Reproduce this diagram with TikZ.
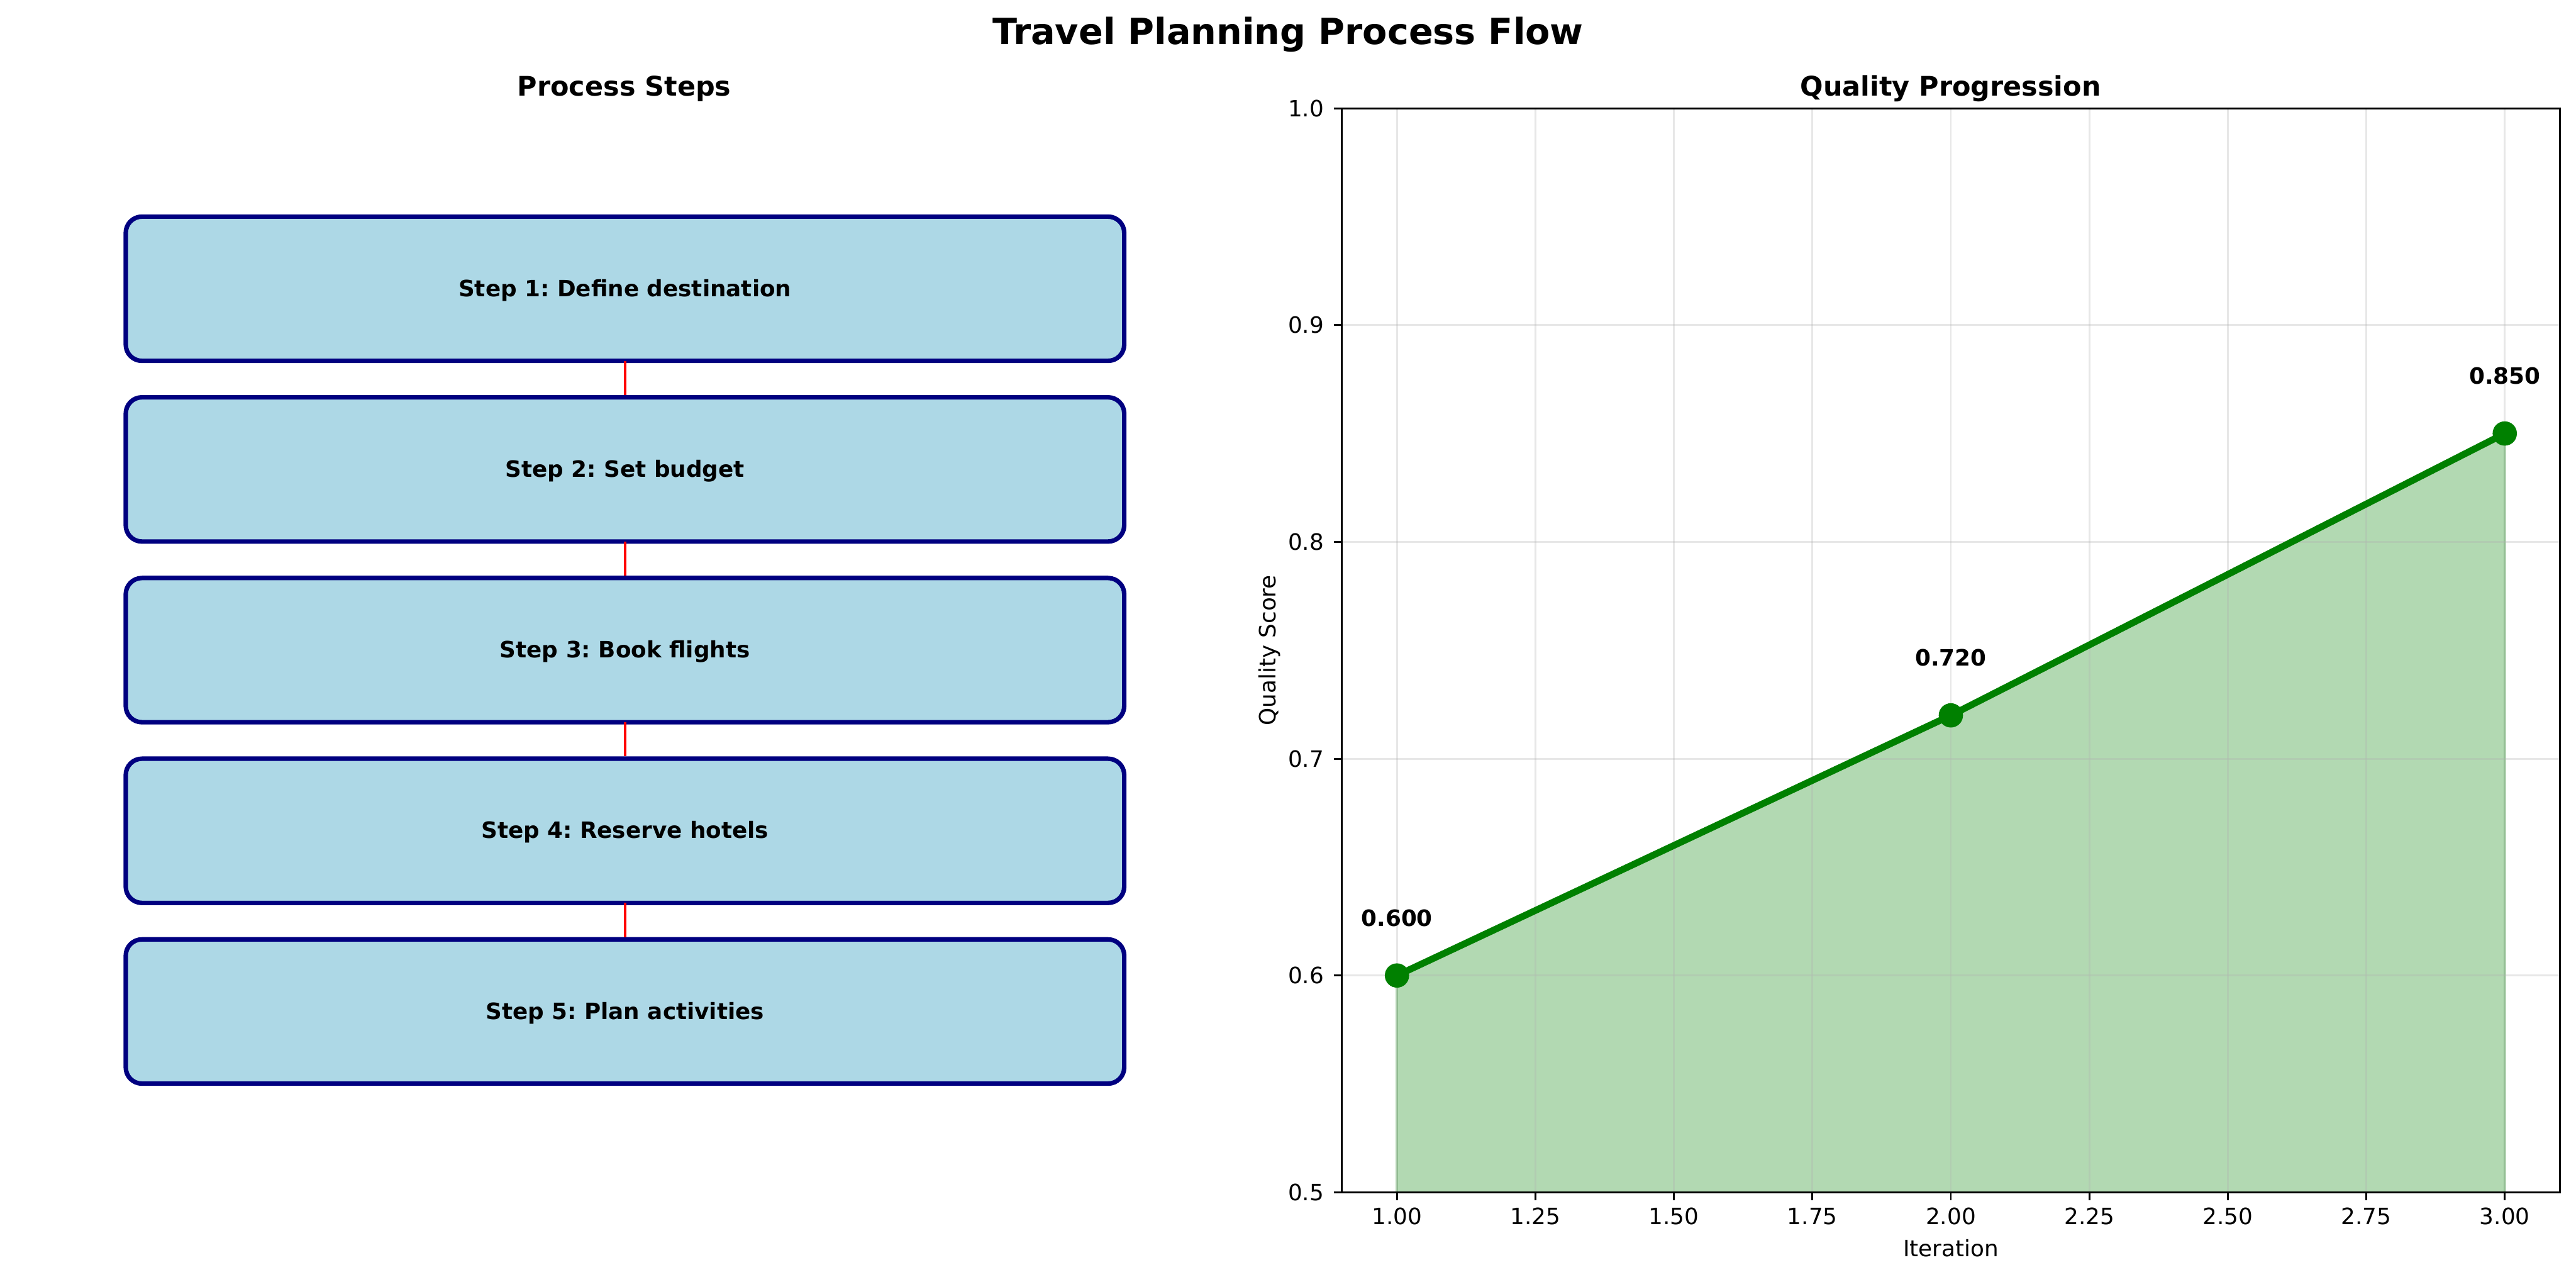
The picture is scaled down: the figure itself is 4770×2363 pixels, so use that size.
\documentclass[tikz,border=0pt]{standalone}
\usepackage{fontspec}
\setmainfont{DejaVu Sans}
\frenchspacing
\definecolor{boxfill}{RGB}{173,216,230}
\definecolor{navyblue}{RGB}{0,0,128}
\definecolor{mplgreen}{RGB}{0,128,0}
\definecolor{gridgray}{RGB}{176,176,176}
\begin{document}
\frenchspacing
\begin{tikzpicture}[x=0.24bp,y=-0.24bp,
  stepbox/.style={draw=navyblue, fill=boxfill, line width=2bp, rounded corners=7.2bp,
    minimum width=443.71bp, minimum height=64.08bp, inner sep=0pt, outer sep=0pt,
    text height=9bp, text depth=2.14bp,
    font=\fontsize{10bp}{12bp}\selectfont\bfseries},
  conn/.style={draw=red, line width=1bp, shorten >=1bp},
  ticklab/.style={inner sep=0pt, font=\fontsize{10bp}{12bp}\selectfont},
  boldlab/.style={inner sep=0pt, font=\fontsize{10bp}{12bp}\selectfont\bfseries},
  subtitle/.style={inner sep=0pt, anchor=base, font=\fontsize{12bp}{14bp}\selectfont\bfseries},
  gridline/.style={draw=gridgray, draw opacity=0.3, line width=0.8bp},
  axisline/.style={draw=black, line width=0.8bp}
]
\useasboundingbox (0,0) rectangle (4770,2363);

% main title
\node[inner sep=0pt, anchor=base, font=\fontsize{16bp}{19bp}\selectfont\bfseries] (title) at (2385,82) {Travel Planning Process Flow};

% left panel
\node[subtitle] (lefttitle) at (1156,178) {Process Steps};
\node[stepbox] (s1) at (1157.3,534.5) {Step 1: Define destination};
\node[stepbox] (s2) at (1157.3,869) {Step 2: Set budget};
\node[stepbox] (s3) at (1157.3,1203.5) {Step 3: Book flights};
\node[stepbox] (s4) at (1157.3,1538) {Step 4: Reserve hotels};
\node[stepbox] (s5) at (1157.3,1872.5) {Step 5: Plan activities};
\draw[conn] (s1.south) -- (s2.north);
\draw[conn] (s2.south) -- (s3.north);
\draw[conn] (s3.south) -- (s4.north);
\draw[conn] (s4.south) -- (s5.north);

% right panel
\node[subtitle] (righttitle) at (3612,178) {Quality Progression};
\begin{scope}[shift={(1561.1,4213.9)}, x=246.144bp, y=963.168bp]
  \begin{scope}
    \clip (0.9,0.5) rectangle (3.1,1.0);
    \fill[mplgreen, fill opacity=0.3] (1,0.45) -- (1,0.6) -- (2,0.72) -- (3,0.85) -- (3,0.45) -- cycle;
  \end{scope}
  \draw[mplgreen, draw opacity=0.3, line width=1bp] (1,0.5) -- (1,0.6) (3,0.85) -- (3,0.5);
  % grid
  \foreach \t in {1,1.25,1.5,1.75,2,2.25,2.5,2.75,3}
    \draw[gridline] (\t,0.5) -- (\t,1.0);
  \foreach \v in {0.6,0.7,0.8,0.9}
    \draw[gridline] (0.9,\v) -- (3.1,\v);
  % data
  \coordinate (p1) at (1,0.6);
  \coordinate (p2) at (2,0.72);
  \coordinate (p3) at (3,0.85);
  \draw[mplgreen, line width=3bp, line join=round] (p1) -- (p2) -- (p3);
  \foreach \p in {p1,p2,p3}
    \fill[mplgreen] (\p) circle (5.4bp);
  \node[boldlab, anchor=base] (l1) at ([yshift=21.9bp]p1) {0.600};
  \node[boldlab, anchor=base] (l2) at ([yshift=21.9bp]p2) {0.720};
  \node[boldlab, anchor=base] (l3) at ([yshift=21.9bp]p3) {0.850};
  % spines
  \draw[axisline] (0.9,0.5) rectangle (3.1,1.0);
  % x ticks
  \foreach \t/\lab in {1/1.00,1.25/1.25,1.5/1.50,1.75/1.75,2/2.00,2.25/2.25,2.5/2.50,2.75/2.75,3/3.00} {
    \draw[axisline] (\t,0.5) -- ++(0,-3.5bp);
    \node[ticklab, anchor=base] (xt\lab) at ([yshift=-14.26bp]\t,0.5) {\lab};
  }
  % y ticks
  \foreach \v in {0.5,0.6,0.7,0.8,0.9,1.0} {
    \draw[axisline] (0.9,\v) -- ++(-3.5bp,0);
    \node[ticklab, anchor=base east] (yt\v) at ([xshift=-7.7bp,yshift=-3.65bp]0.9,\v) {\v};
  }
  \node[ticklab, anchor=base] (xlabel) at ([yshift=-28.5bp]2,0.5) {Iteration};
  \node[ticklab, anchor=base, rotate=90] (ylabel) at ([xshift=-29.3bp]0.9,0.75) {Quality Score};
\end{scope}
\end{tikzpicture}
\end{document}
